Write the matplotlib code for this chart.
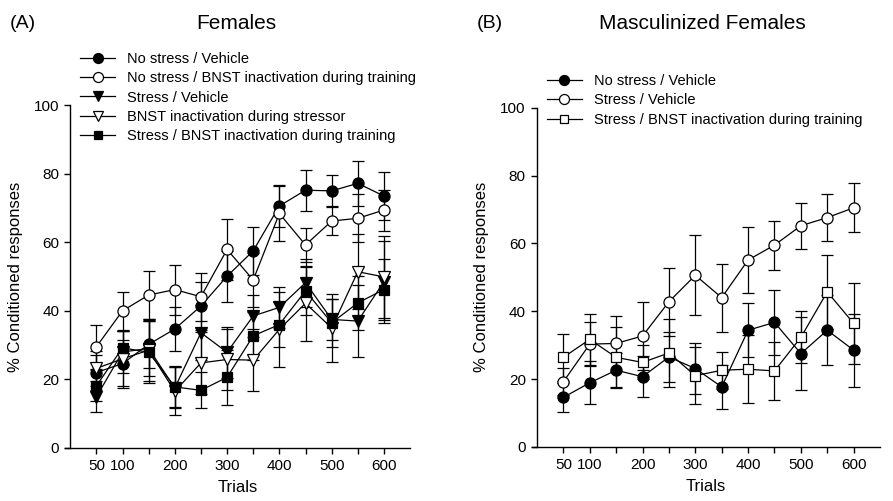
import matplotlib
matplotlib.use("Agg")
import matplotlib.pyplot as plt
import numpy as np

plt.rcParams['font.family'] = ['Liberation Sans', 'DejaVu Sans']

trials = [50, 100, 150, 200, 250, 300, 350, 400, 450, 500, 550, 600]
tick_labels = ['50', '100', '', '200', '', '300', '', '400', '', '500', '', '600']

# (A) Females
fem_nostress_veh = [22.0, 24.6, 30.2, 34.7, 41.4, 50.1, 57.5, 70.6, 75.2, 75.0, 77.2, 73.5]
fem_nostress_veh_err = [5, 7, 7, 6.5, 7, 7.5, 7, 6, 6, 4.5, 6.5, 7]
fem_nostress_bnst = [29.5, 40.0, 44.6, 46.2, 44.1, 57.9, 49.0, 68.4, 59.2, 66.2, 67.0, 69.4]
fem_nostress_bnst_err = [6.5, 5.5, 7, 7.3, 7, 9, 8, 8, 5, 4, 7, 6]
fem_stress_veh = [14.9, 28.0, 29.0, 17.5, 33.6, 27.9, 38.5, 41.0, 48.2, 37.5, 37.0, 48.5]
fem_stress_veh_err = [4.5, 6, 8, 6, 8, 7.5, 6, 6, 7, 6, 10.5, 12]
fem_bnst_stressor = [23.2, 26.0, 28.5, 16.5, 24.8, 25.8, 25.6, 34.6, 42.2, 35.0, 51.4, 49.9]
fem_bnst_stressor_err = [5, 8, 9, 7, 9, 9, 9, 11, 11, 10, 11, 12]
fem_stress_bnst = [18.1, 29.2, 27.9, 17.8, 16.8, 20.6, 32.7, 36.0, 45.8, 36.5, 42.3, 46.2]
fem_stress_bnst_err = [4.5, 5, 9, 6, 5.3, 8, 7, 6.5, 7, 7, 8, 9]

# (B) Masculinized females
masc_nostress_veh = [14.6, 18.9, 22.6, 20.7, 26.5, 23.1, 17.7, 34.4, 36.7, 27.5, 34.4, 28.5]
masc_nostress_veh_err = [4.3, 6.4, 5, 6, 7.5, 7.5, 6.5, 8, 9.5, 10.8, 10.3, 10.8]
masc_stress_veh = [19.2, 30.3, 30.5, 32.7, 42.8, 50.6, 44.0, 55.1, 59.5, 65.2, 67.6, 70.5]
masc_stress_veh_err = [4, 6.5, 8, 10, 10, 11.8, 10, 9.8, 7.2, 6.8, 6.9, 7.2]
masc_stress_bnst = [26.4, 31.7, 26.4, 24.9, 27.7, 21.0, 22.6, 22.9, 22.4, 32.3, 45.7, 36.4]
masc_stress_bnst_err = [7, 7.5, 9, 5, 10, 8.5, 5.5, 10, 8.5, 7.7, 11, 12]


def draw_series(ax, y, err, marker, face, label, ms):
    ax.errorbar(trials, y, yerr=err, fmt='none', ecolor='black', elinewidth=0.9,
                capsize=4.5, capthick=0.9, zorder=2)
    ax.plot(trials, y, color='black', lw=0.9, marker=marker, ms=ms,
            mfc=face, mec='black', mew=0.9, label=label, zorder=3)


def style_axes(ax):
    ax.set_xlim(-10, 650)
    ax.set_ylim(0, 100)
    ax.spines['top'].set_visible(False)
    ax.spines['right'].set_visible(False)
    ax.spines['left'].set_position(('data', 0))
    for s in ['left', 'bottom']:
        ax.spines[s].set_linewidth(1.0)
    ax.set_xticks(trials)
    ax.set_xticklabels(tick_labels)
    ax.set_yticks([0, 20, 40, 60, 80, 100])
    ax.tick_params(direction='out', length=4, width=1.0, labelsize=11, pad=4)
    ax.set_xlabel('Trials', fontsize=12, labelpad=5)
    ax.set_ylabel('% Conditioned responses', fontsize=12, labelpad=8)


fig = plt.figure(figsize=(8.93, 5.01), dpi=100)
axA = fig.add_axes([0.0728, 0.106, 0.3864, 0.684])
axB = fig.add_axes([0.5954, 0.108, 0.3901, 0.677])

draw_series(axA, fem_nostress_veh, fem_nostress_veh_err, 'o', 'black', 'No stress / Vehicle', 8)
draw_series(axA, fem_nostress_bnst, fem_nostress_bnst_err, 'o', 'white',
            'No stress / BNST inactivation during training', 8)
draw_series(axA, fem_stress_veh, fem_stress_veh_err, 'v', 'black', 'Stress / Vehicle', 8)
draw_series(axA, fem_bnst_stressor, fem_bnst_stressor_err, 'v', 'white',
            'BNST inactivation during stressor', 8)
draw_series(axA, fem_stress_bnst, fem_stress_bnst_err, 's', 'black',
            'Stress / BNST inactivation during training', 7)
style_axes(axA)

draw_series(axB, masc_nostress_veh, masc_nostress_veh_err, 'o', 'black', 'No stress / Vehicle', 8)
draw_series(axB, masc_stress_veh, masc_stress_veh_err, 'o', 'white', 'Stress / Vehicle', 8)
draw_series(axB, masc_stress_bnst, masc_stress_bnst_err, 's', 'white',
            'Stress / BNST inactivation during training', 7)
style_axes(axB)

leg_kw = dict(loc='upper left', frameon=False, fontsize=10.5, borderpad=0,
              borderaxespad=0, handlelength=2.4, handletextpad=0.8,
              labelspacing=0.36, markerscale=0.9, bbox_transform=fig.transFigure)
axA.legend(bbox_to_anchor=(0.0896, 0.896), **leg_kw)
axB.legend(bbox_to_anchor=(0.6125, 0.852), **leg_kw)

fig.text(0.025, 0.954, '(A)', fontsize=14, ha='center', va='center')
fig.text(0.265, 0.954, 'Females', fontsize=15, ha='center', va='center')
fig.text(0.548, 0.954, '(B)', fontsize=14, ha='center', va='center')
fig.text(0.786, 0.954, 'Masculinized Females', fontsize=15, ha='center', va='center')

fig.savefig('out.png', dpi=100)
